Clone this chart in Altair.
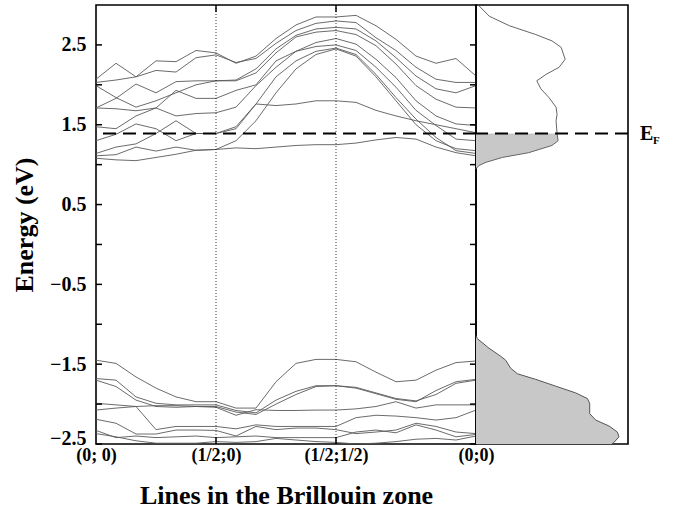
import altair as alt
import pandas as pd

# ---------------- data ----------------
k = list(range(20))                      # k-point index along the path
k_sym = [0, 6, 12, 19]                   # high-symmetry points
k_labels = ["(0; 0)", "(1/2;0)", "(1/2;1/2)", "(0;0)"]
k_inner = [6, 12]
e_fermi = [1.39]
e_ticks = [-2.5, -2.0, -1.5, -1.0, -0.5, 0.0, 0.5, 1.0, 1.5, 2.0, 2.5]
e_labels = [-2.5, -1.5, -0.5, 0.5, 1.5, 2.5]

# conduction bands (eV)
c10 = [2.07, 2.27, 2.10, 2.30, 2.29, 2.43, 2.40, 2.27, 2.36, 2.58, 2.75, 2.85, 2.85, 2.87, 2.74, 2.57, 2.36, 2.27, 2.33, 2.11]
c9 = [2.03, 2.06, 2.10, 2.18, 2.16, 2.34, 2.375, 2.28, 2.33, 2.52, 2.68, 2.77, 2.80, 2.78, 2.59, 2.43, 2.22, 2.07, 2.03, 2.03]
c8 = [1.99, 1.84, 1.72, 1.80, 1.90, 2.00, 2.05, 2.06, 2.20, 2.45, 2.62, 2.70, 2.72, 2.70, 2.55, 2.34, 2.11, 1.95, 1.90, 1.99]
c7 = [1.71, 1.83, 2.01, 1.90, 2.04, 2.05, 2.05, 2.05, 2.15, 2.40, 2.60, 2.66, 2.68, 2.63, 2.49, 2.26, 1.99, 1.82, 1.72, 1.71]
c6 = [1.71, 1.70, 1.675, 1.71, 1.61, 1.64, 1.65, 1.72, 1.99, 2.22, 2.42, 2.53, 2.58, 2.51, 2.32, 2.09, 1.80, 1.61, 1.51, 1.49]
c5 = [1.475, 1.45, 1.61, 1.71, 1.93, 1.83, 1.83, 1.93, 2.00, 2.30, 2.42, 2.48, 2.50, 2.43, 2.22, 1.97, 1.68, 1.49, 1.32, 1.30]
c4 = [1.30, 1.38, 1.51, 1.45, 1.30, 1.39, 1.39, 1.475, 1.76, 2.10, 2.30, 2.42, 2.46, 2.38, 2.13, 1.84, 1.57, 1.34, 1.175, 1.14]
c3 = [1.14, 1.22, 1.26, 1.39, 1.55, 1.39, 1.39, 1.45, 1.76, 1.74, 1.76, 1.80, 1.80, 1.78, 1.68, 1.61, 1.55, 1.50, 1.45, 1.40]
c2 = [1.11, 1.125, 1.22, 1.17, 1.22, 1.18, 1.19, 1.30, 1.55, 1.90, 2.20, 2.38, 2.45, 2.36, 2.10, 1.80, 1.50, 1.30, 1.20, 1.175]
c1 = [1.08, 1.06, 1.05, 1.09, 1.13, 1.18, 1.19, 1.21, 1.20, 1.22, 1.24, 1.25, 1.25, 1.27, 1.31, 1.34, 1.32, 1.22, 1.15, 1.11]

# valence bands (eV)
v1 = [-1.45, -1.49, -1.66, -1.80, -1.91, -1.97, -1.97, -2.05, -2.05, -1.72, -1.49, -1.44, -1.44, -1.47, -1.60, -1.72, -1.70, -1.575, -1.48, -1.46]
v2 = [-1.68, -1.70, -1.91, -1.99, -2.01, -2.01, -2.01, -2.08, -2.11, -1.95, -1.84, -1.77, -1.77, -1.80, -1.87, -1.94, -1.97, -1.83, -1.72, -1.69]
v3 = [-1.70, -1.78, -1.95, -2.03, -2.04, -2.03, -2.03, -2.10, -2.13, -2.00, -1.88, -1.78, -1.77, -1.79, -1.86, -1.93, -1.96, -1.88, -1.74, -1.70]
v4 = [-1.99, -2.01, -2.03, -2.02, -2.02, -2.03, -2.04, -2.14, -2.07, -2.08, -2.08, -2.075, -2.075, -2.06, -2.03, -1.97, -2.05, -2.01, -2.01, -2.01]
v5 = [-2.075, -2.05, -2.03, -2.32, -2.28, -2.28, -2.28, -2.31, -2.26, -2.28, -2.28, -2.28, -2.28, -2.17, -2.14, -2.15, -2.17, -2.20, -2.17, -2.075]
v6 = [-2.19, -2.24, -2.375, -2.375, -2.325, -2.325, -2.33, -2.40, -2.28, -2.32, -2.30, -2.30, -2.32, -2.37, -2.35, -2.325, -2.24, -2.28, -2.35, -2.37]
v7 = [-2.33, -2.42, -2.40, -2.42, -2.41, -2.40, -2.42, -2.41, -2.40, -2.42, -2.42, -2.42, -2.42, -2.35, -2.325, -2.36, -2.26, -2.325, -2.41, -2.38]
v8 = [-2.37, -2.41, -2.46, -2.49, -2.49, -2.49, -2.47, -2.48, -2.47, -2.43, -2.45, -2.47, -2.48, -2.50, -2.49, -2.47, -2.44, -2.43, -2.45, -2.40]

# density of states (arb. units)
dos_c_e = [2.99, 2.86, 2.74, 2.63, 2.55, 2.47, 2.32, 2.22, 2.13, 2.05, 1.95, 1.84, 1.72, 1.63, 1.55, 1.39, 1.30, 1.24, 1.15, 1.09, 1.03, 0.99, 0.95]
dos_c = [0.3, 1.3, 3.3, 5.9, 7.5, 8.4, 8.8, 8.2, 6.9, 6.0, 6.4, 7.2, 7.9, 8.0, 7.9, 8.0, 8.1, 7.5, 5.2, 2.6, 1.0, 0.3, 0.0]
dos_v_e = [-1.14, -1.18, -1.30, -1.40, -1.45, -1.55, -1.62, -1.69, -1.775, -1.86, -1.93, -1.99, -2.12, -2.20, -2.275, -2.35, -2.41, -2.48, -2.50]
dos_v = [0.0, 0.13, 1.28, 2.43, 2.93, 3.42, 4.08, 5.89, 7.86, 9.84, 10.99, 11.22, 11.22, 11.81, 13.13, 13.95, 14.11, 13.62, 13.4]

# ---------------- tables ----------------
bands = {"c1": c1, "c2": c2, "c3": c3, "c4": c4, "c5": c5, "c6": c6, "c7": c7,
         "c8": c8, "c9": c9, "c10": c10, "v1": v1, "v2": v2, "v3": v3, "v4": v4,
         "v5": v5, "v6": v6, "v7": v7, "v8": v8}
rows = []
for name, vals in bands.items():
    for kk, e in zip(k, vals):
        rows.append({"k": kk, "E": e, "band": name})
band_df = pd.DataFrame(rows)
kin_df = pd.DataFrame({"k": k_inner})
ef_df = pd.DataFrame({"E": e_fermi})
tick_df = pd.DataFrame({"t": e_ticks})
dc_df = pd.DataFrame({"E": dos_c_e, "dos": dos_c})
dc_fill = dc_df[dc_df["E"] <= e_fermi[0]]
dv_df = pd.DataFrame({"E": dos_v_e, "dos": dos_v})

W1, W2, H = 380, 152, 439
FONT = "Liberation Serif"
yscale = alt.Scale(domain=[-2.5, 3.0], nice=False, zero=False)
xscale = alt.Scale(domain=[0, 19], nice=False, zero=False)

label_expr = " : ".join(
    f"datum.value == {v} ? '{l}'" for v, l in zip(k_sym[:-1], k_labels[:-1])
) + f" : '{k_labels[-1]}'"

x_axis = alt.Axis(values=k_sym, labelExpr=label_expr, grid=False, ticks=False, domain=False,
                  labelFlush=False, labelOverlap=False, labelBound=False,
                  labelFont=FONT, labelFontSize=18, labelFontWeight="bold", labelColor="black",
                  labelPadding=2, title="Lines in the Brillouin zone", titleFont=FONT,
                  titleFontSize=26, titleFontWeight="bold", titleColor="black", titlePadding=18)
y_axis = alt.Axis(values=e_labels, format=".1f", grid=False, ticks=False, domain=False,
                  labelFlush=True, labelFlushOffset=4,
                  labelFont=FONT, labelFontSize=20, labelFontWeight="bold", labelColor="black",
                  labelPadding=10, title="Energy (eV)", titleFont=FONT, titleFontSize=26,
                  titleFontWeight="bold", titleColor="black", titlePadding=12)

lines = alt.Chart(band_df).mark_line(color="#5a5a5a", strokeWidth=0.9, clip=True).encode(
    x=alt.X("k:Q", scale=xscale, axis=x_axis),
    y=alt.Y("E:Q", scale=yscale, axis=y_axis),
    detail="band:N",
    order="k:Q",
)
vlines = alt.Chart(kin_df).mark_rule(color="black", strokeWidth=0.8, strokeDash=[1, 2]).encode(
    x=alt.X("k:Q", scale=xscale)
)
kt_bot = alt.Chart(kin_df).mark_rule(color="black", strokeWidth=1.5).encode(
    x=alt.X("k:Q", scale=xscale), y=alt.value(H - 7), y2=alt.value(H)
)
kt_top = alt.Chart(kin_df).mark_rule(color="black", strokeWidth=1.5).encode(
    x=alt.X("k:Q", scale=xscale), y=alt.value(0), y2=alt.value(7)
)
et_left = alt.Chart(tick_df).mark_rule(color="black", strokeWidth=1.5).encode(
    y=alt.Y("t:Q", scale=yscale), x=alt.value(0), x2=alt.value(6)
)
et_right = alt.Chart(tick_df).mark_rule(color="black", strokeWidth=1.5).encode(
    y=alt.Y("t:Q", scale=yscale), x=alt.value(W1 - 6), x2=alt.value(W1)
)
fermi1 = alt.Chart(ef_df).mark_rule(color="black", strokeWidth=2.2, strokeDash=[13, 7]).encode(
    y=alt.Y("E:Q", scale=yscale)
)
left = alt.layer(lines, vlines, kt_bot, kt_top, et_left, et_right, fermi1).properties(
    width=W1, height=H
)

dscale = alt.Scale(domain=[0, 15], nice=False, zero=False)
dos_fill_c = alt.Chart(dc_fill).mark_area(orient="horizontal", color="#c8c8c8").encode(
    x=alt.X("dos:Q", scale=dscale, axis=None), y=alt.Y("E:Q", scale=yscale, axis=None)
)
dos_line_c = alt.Chart(dc_df).mark_line(color="#666", strokeWidth=1).encode(
    x=alt.X("dos:Q", scale=dscale, axis=None), y=alt.Y("E:Q", scale=yscale, axis=None),
    order="E:Q",
)
dos_fill_v = alt.Chart(dv_df).mark_area(orient="horizontal", color="#c8c8c8", clip=True).encode(
    x=alt.X("dos:Q", scale=dscale, axis=None), y=alt.Y("E:Q", scale=yscale, axis=None)
)
dos_line_v = alt.Chart(dv_df).mark_line(color="#555", strokeWidth=1, clip=True).encode(
    x=alt.X("dos:Q", scale=dscale, axis=None), y=alt.Y("E:Q", scale=yscale, axis=None),
    order="E:Q",
)
fermi2 = alt.Chart(ef_df).mark_rule(color="black", strokeWidth=2.2, strokeDash=[13, 7]).encode(
    y=alt.Y("E:Q", scale=yscale)
)
ef_text = alt.Chart(ef_df).mark_text(text="E", align="left", baseline="middle", font=FONT,
                                     fontSize=20, fontWeight="bold", color="black").encode(
    y=alt.Y("E:Q", scale=yscale), x=alt.value(W2 + 12)
)
ef_sub = alt.Chart(ef_df).mark_text(text="F", align="left", baseline="middle", font=FONT,
                                    fontSize=11, fontWeight="bold", color="black", dy=7).encode(
    y=alt.Y("E:Q", scale=yscale), x=alt.value(W2 + 25)
)
right = alt.layer(dos_fill_c, dos_line_c, dos_fill_v, dos_line_v, fermi2, ef_text, ef_sub).properties(
    width=W2, height=H
)

chart = alt.hconcat(left, right, spacing=0, bounds="flush").properties(
    padding={"left": 10, "top": 2, "right": 0, "bottom": 0},
    background="white",
).configure_view(stroke="black", strokeWidth=1.6)

chart.save("out.html", embed_options={"renderer": "svg", "actions": False})
